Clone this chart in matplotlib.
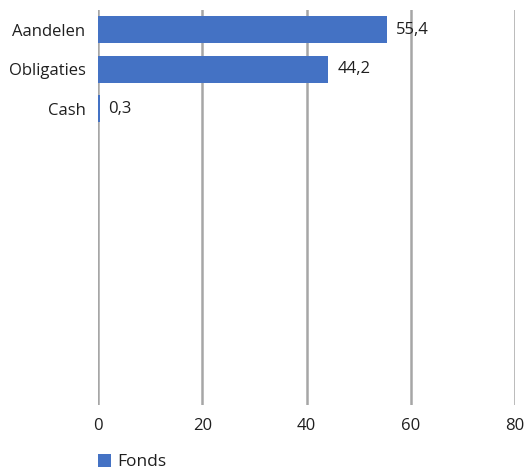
import matplotlib
matplotlib.use("Agg")
import matplotlib.pyplot as plt

categories = ["Aandelen", "Obligaties", "Cash"]
values = [55.4, 44.2, 0.3]
value_labels = ["55,4", "44,2", "0,3"]
x_ticks = [0, 20, 40, 60, 80]
series_name = "Fonds"
n_slots = 10

plt.rcParams['font.family'] = ['Open Sans', 'DejaVu Sans']

fig = plt.figure(figsize=(5.26, 4.75), dpi=100)
ax = fig.add_axes([98 / 526, 1 - 405 / 475, (515 - 98) / 526, (405 - 10) / 475])

color = "#4472C4"
text_color = "#1f1f1f"
ypos = list(range(len(categories)))
bars = ax.barh(ypos, values, height=0.68, color=color, label=series_name, zorder=3)

for y, v, lab in zip(ypos, values, value_labels):
    ax.annotate(lab, (v, y), xytext=(6.5, 0), textcoords="offset points",
                va="center", ha="left", fontsize=12, color=text_color)

ax.set_xlim(0, 80)
ax.set_ylim(n_slots - 0.5, -0.5)
ax.set_yticks(ypos)
ax.set_yticklabels(categories, fontsize=12, color=text_color)
ax.set_xticks(x_ticks)
ax.set_xticklabels([str(t) for t in x_ticks], fontsize=12, color=text_color)
ax.tick_params(length=0)
ax.tick_params(axis="x", pad=9.5)
ax.tick_params(axis="y", pad=9)

ax.grid(axis="x", color="#A6A6A6", linewidth=1.8, zorder=0)
for s in ax.spines.values():
    s.set_visible(False)

leg = fig.legend(handles=[bars], labels=[series_name], loc="lower left",
                 bbox_to_anchor=(88 / 526, -0.012), frameon=False, fontsize=12.5,
                 handlelength=0.75, handleheight=0.75, handletextpad=0.35,
                 borderaxespad=0.2)
for t in leg.get_texts():
    t.set_color(text_color)

fig.savefig("out.png", dpi=100)
